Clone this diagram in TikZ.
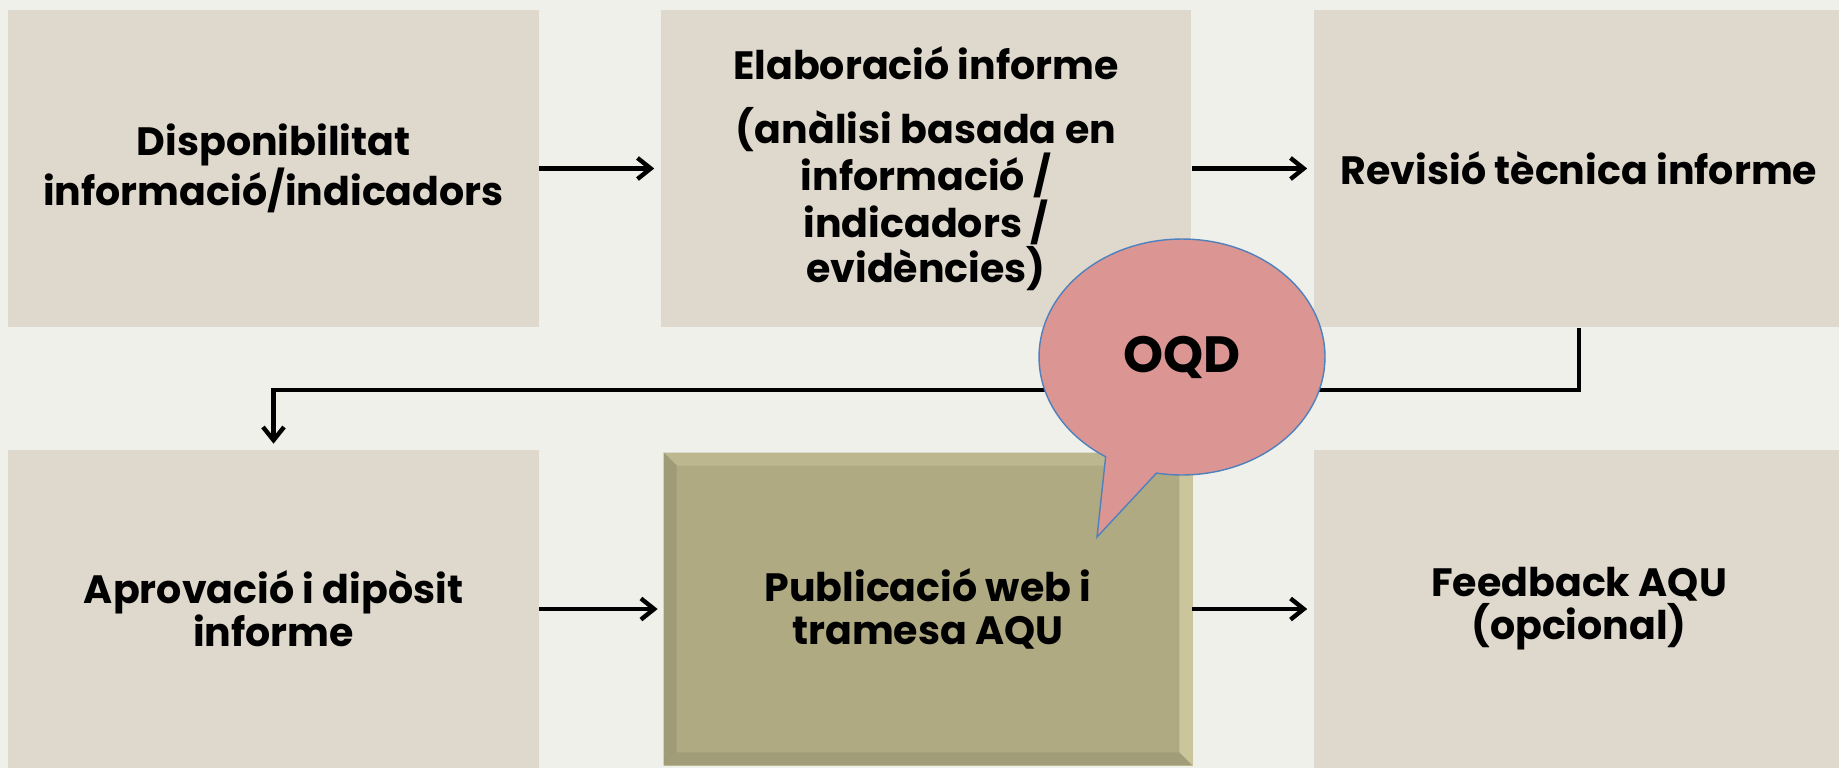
\documentclass[tikz,border=0pt]{standalone}
\usepackage{fontspec}
\usepackage{tikz}
\usepackage{xcolor}
\usetikzlibrary{arrows.meta,positioning,calc,shapes.callouts}
\newfontfamily\stepfont{Poppins}
\newcommand{\boxfont}{\stepfont\bfseries\fontsize{22.5}{24.5}\selectfont}
\definecolor{bgpale}{HTML}{EEF0E9}
\definecolor{boxsand}{HTML}{DFD8CC}
\definecolor{olivemid}{HTML}{AFAA82}
\definecolor{olivehi}{HTML}{CBC59C}
\definecolor{olivetop}{HTML}{BDB78F}
\definecolor{olivelo}{HTML}{A09B77}
\definecolor{bubblepink}{HTML}{DB9593}
\definecolor{bubbleblue}{HTML}{4F81BD}

\begin{document}
\begin{tikzpicture}[x=0.02cm, y=-0.02cm,
  stepbox/.style={fill=boxsand, minimum width=10.62cm, minimum height=6.36cm, align=center, inner sep=0pt, font=\boxfont},
  pubbox/.style={fill=olivemid, draw=olivehi, line width=0.5pt, minimum width=10.56cm, minimum height=6.24cm, inner sep=0pt},
  flowarrow/.style={-{Straight Barb[length=7.5pt, width=12pt]}, line width=2.5pt, black, shorten >=0.12cm},
  bubble/.style={ellipse callout, fill=bubblepink, draw=bubbleblue, line width=0.8pt, minimum width=5.72cm, minimum height=4.72cm, callout pointer arc=22, font=\stepfont\bfseries\fontsize{29}{34}\selectfont}
]
% background
\fill[bgpale] (0,0) rectangle (1839,768);
\useasboundingbox (0,0) rectangle (1839,768);

% top row
\node[stepbox] (disp) at (273.5,168.5) {Disponibilitat\\informació/indicadors};
\node[stepbox] (elab) at (926,168.5) {Elaboració informe\\[0.42cm](anàlisi basada en\\informació /\\indicadors /\\evidències)};
\node[stepbox] (rev) at (1579,168.5) {Revisió tècnica informe};

% bottom row
\node[stepbox] (aprov) at (273.5,609) {Aprovació i dipòsit\\informe};
\node[pubbox] (pub) at (928,609) {};
\node[stepbox] (feed) at (1579,609) {Feedback AQU\\(opcional)};

% bevel of the highlighted box
\fill[olivetop] (pub.north west) -- (pub.north east) -- ([shift={(-13,13)}]pub.north east) -- ([shift={(13,13)}]pub.north west) -- cycle;
\fill[olivelo] (pub.north west) -- (pub.south west) -- ([shift={(13,-13)}]pub.south west) -- ([shift={(13,13)}]pub.north west) -- cycle;
\fill[olivehi] (pub.north east) -- (pub.south east) -- ([shift={(-13,-13)}]pub.south east) -- ([shift={(-13,13)}]pub.north east) -- cycle;
\fill[olivelo!90!olivemid] (pub.south west) -- (pub.south east) -- ([shift={(-13,-13)}]pub.south east) -- ([shift={(13,-13)}]pub.south west) -- cycle;
\node[font=\boxfont, align=center] (pubtext) at (pub.center) {Publicació web i\\tramesa AQU};

% connectors
\foreach \a/\b in {disp/elab, elab/rev, aprov/pub, pub/feed} {
  \draw[flowarrow] (\a.east) -- (\b.west);
}
\draw[flowarrow] (rev.south) -- ++(0,62) -| (aprov.north);

% callout
\node[bubble, callout absolute pointer={(1097,537)}] (oqd) at (1182,357) {\raisebox{-5pt}{OQD}};
\end{tikzpicture}
\end{document}
